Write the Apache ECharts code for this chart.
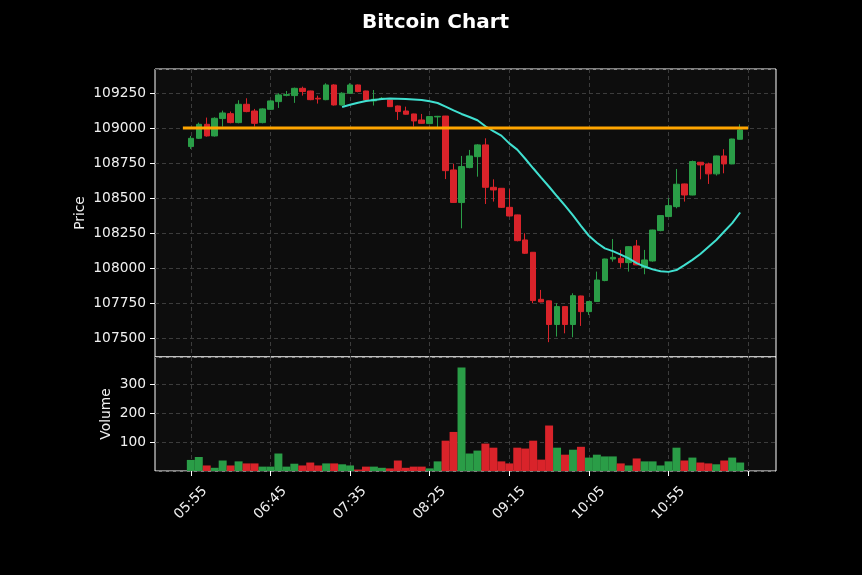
<!DOCTYPE html>
<html>
<head>
<meta charset="utf-8">
<script src="https://cdn.jsdelivr.net/npm/echarts@6/dist/echarts.min.js"></script>
<style>
html,body{margin:0;padding:0;background:#000;}
#c{width:862px;height:575px;}
</style>
</head>
<body>
<div id="c"></div>
<script>
// ---- data (5-minute candles) ----
const times = ['05:55','06:00','06:05','06:10','06:15','06:20','06:25','06:30','06:35','06:40',
  '06:45','06:50','06:55','07:00','07:05','07:10','07:15','07:20','07:25','07:30',
  '07:35','07:40','07:45','07:50','07:55','08:00','08:05','08:10','08:15','08:20',
  '08:25','08:30','08:35','08:40','08:45','08:50','08:55','09:00','09:05','09:10',
  '09:15','09:20','09:25','09:30','09:35','09:40','09:45','09:50','09:55','10:00',
  '10:05','10:10','10:15','10:20','10:25','10:30','10:35','10:40','10:45','10:50',
  '10:55','11:00','11:05','11:10','11:15','11:20','11:25','11:30','11:35','11:40'];
const opens = [108867,108926,109026,108943,109067,109102,109038,109169,109121,109038,
  109133,109188,109233,109231,109283,109264,109212,109202,109307,109164,
  109248,109307,109264,109193,109208,109200,109157,109121,109100,109057,
  109031,109079,109085,108700,108467,108717,108795,108879,108576,108569,
  108433,108379,108200,108112,107776,107765,107596,107724,107596,107800,
  107688,107760,107910,108064,108069,108038,108157,108002,108050,108267,
  108367,108438,108600,108521,108755,108743,108672,108800,108743,108919];
const closes = [108926,109026,108943,109069,109107,109038,109169,109117,109033,109136,
  109193,109236,109238,109283,109260,109202,109207,109307,109164,109248,
  109307,109260,109200,109205,109212,109152,109117,109098,109050,109033,
  109081,109083,108695,108468,108724,108800,108879,108576,108557,108433,
  108371,108195,108105,107767,107757,107596,107724,107596,107802,107688,
  107760,107914,108064,108076,108038,108152,108022,108057,108271,108374,
  108445,108598,108521,108760,108736,108672,108800,108743,108921,108986];
const highs = [108943,109038,109074,109076,109124,109117,109198,109212,109136,109140,
  109198,109248,109264,109288,109295,109266,109231,109319,109312,109255,
  109319,109310,109266,109271,109220,109202,109160,109152,109102,109100,
  109086,109086,109086,108745,108800,108843,108884,108926,108633,108571,
  108562,108381,108248,108114,107843,107767,107748,107726,107819,107802,
  107762,107974,108066,108207,108129,108155,108200,108129,108273,108376,
  108498,108707,108602,108767,108757,108752,108802,108848,108923,109026];
const lows = [108850,108921,108938,108938,109010,109033,109033,109112,109010,109033,
  109129,109143,109226,109179,109231,109198,109174,109198,109160,109160,
  109243,109255,109193,109160,109200,109150,109057,109095,109010,109030,
  109026,109002,108635,108465,108283,108712,108652,108457,108474,108428,
  108368,108190,108100,107748,107755,107470,107510,107533,107505,107586,
  107664,107758,107905,108045,108002,107974,108020,107955,108045,108262,
  108365,108426,108474,108519,108633,108600,108660,108676,108741,108917];
const volumes = [41,51,22,14,39,22,36,29,29,18,
  18,63,18,28,22,32,22,29,29,26,
  22,8,18,18,14,12,39,14,18,18,
  12,36,107,137,358,63,73,97,83,36,
  29,83,80,107,42,159,83,59,76,86,
  49,59,53,53,29,22,46,36,36,22,
  36,83,39,49,32,29,26,39,49,32];
const ma20 = [null,null,null,null,null,null,null,null,null,null,
  null,null,null,null,null,null,null,null,null,109150,
  109166,109180,109192,109200,109206,109210,109209,109206,109203,109199,
  109190,109178,109152,109125,109100,109078,109055,109012,108978,108945,
  108890,108845,108780,108712,108645,108580,108512,108445,108375,108300,
  108230,108180,108140,108120,108095,108068,108035,108010,107990,107976,
  107972,107985,108020,108058,108100,108150,108200,108260,108320,108396];
const levelPrice = 109000;
const priceTicks = [107500,107750,108000,108250,108500,108750,109000,109250];
const volumeTicks = [100,200,300];

// ---- layout helpers ----
const PAD = 4;
const pad = Array(PAD).fill('');
const cats = pad.concat(times, pad);
const padNull = Array(PAD).fill('-');
const candleData = padNull.concat(times.map((t, i) => [opens[i], closes[i], lows[i], highs[i]]), padNull);
const UP = '#2a9d47', DOWN = '#d9232a';
const volData = padNull.concat(volumes.map((v, i) => ({
  value: v, itemStyle: { color: closes[i] >= opens[i] ? UP : DOWN }
})), padNull);
const maData = padNull.concat(ma20, padNull);
// horizontal level line spans one slot beyond first and last candle
const levelData = cats.map((c, k) => (k >= PAD - 1 && k <= PAD + times.length) ? levelPrice : null);

const isTick = (idx) => idx >= PAD && (idx - PAD) % 10 === 0;
const FONT = 'DejaVu Sans';
const TXT = '#f0f0f0';
const gridLine = { show: true, lineStyle: { color: '#3c3c3c', type: [4, 3], width: 1 } };

const chart = echarts.init(document.getElementById('c'), null, { renderer: 'canvas' });
chart.setOption({
  backgroundColor: '#000000',
  animation: false,
  title: {
    text: 'Bitcoin Chart', left: 357, top: 8,
    textStyle: { color: '#ffffff', fontSize: 20, fontWeight: 'bold', fontFamily: FONT }
  },
  grid: [
    { left: 155, right: 86, top: 69, height: 288, show: true, backgroundColor: '#0d0d0d', borderColor: '#ffffff', borderWidth: 1 },
    { left: 155, right: 86, top: 357, height: 114, show: true, backgroundColor: '#0d0d0d', borderColor: '#ffffff', borderWidth: 1 }
  ],
  xAxis: [
    {
      type: 'category', gridIndex: 0, data: cats, boundaryGap: true,
      axisLine: { show: false }, axisTick: { show: false }, axisLabel: { show: false },
      splitLine: Object.assign({ interval: isTick, alignWithLabel: true }, gridLine)
    },
    {
      type: 'category', gridIndex: 1, data: cats, boundaryGap: true,
      axisLine: { show: false },
      axisTick: { show: true, alignWithLabel: true, interval: isTick, length: 5, lineStyle: { color: '#ffffff' } },
      axisLabel: {
        interval: isTick, rotate: 45, align: 'center', verticalAlign: 'middle', margin: 32,
        color: TXT, fontSize: 13.8, fontFamily: FONT
      },
      splitLine: Object.assign({ interval: isTick, alignWithLabel: true }, gridLine)
    }
  ],
  yAxis: [
    {
      type: 'value', gridIndex: 0, min: 107364, max: 109421, minInterval: 250, maxInterval: 250,
      name: 'Price', nameLocation: 'middle', nameGap: 68, nameMoveOverlap: false,
      nameTextStyle: { color: TXT, fontSize: 13.8, fontFamily: FONT },
      axisLine: { show: false },
      axisTick: { show: true, length: 5, lineStyle: { color: '#ffffff' } },
      axisLabel: {
        color: TXT, fontSize: 13.8, fontFamily: FONT, margin: 9,
        showMinLabel: false, showMaxLabel: false,
        formatter: (v) => priceTicks.indexOf(v) >= 0 ? String(v) : ''
      },
      splitLine: gridLine
    },
    {
      type: 'value', gridIndex: 1, min: 3, max: 394, minInterval: 100, maxInterval: 100,
      name: 'Volume', nameLocation: 'middle', nameGap: 42, nameMoveOverlap: false,
      nameTextStyle: { color: TXT, fontSize: 13.8, fontFamily: FONT },
      axisLine: { show: false },
      axisTick: { show: true, length: 5, lineStyle: { color: '#ffffff' } },
      axisLabel: {
        color: TXT, fontSize: 13.8, fontFamily: FONT, margin: 9,
        showMinLabel: false, showMaxLabel: false,
        formatter: (v) => volumeTicks.indexOf(v) >= 0 ? String(v) : ''
      },
      splitLine: gridLine
    }
  ],
  series: [
    {
      type: 'candlestick', xAxisIndex: 0, yAxisIndex: 0, data: candleData, barWidth: 6,
      itemStyle: { color: UP, color0: DOWN, borderColor: UP, borderColor0: DOWN, borderWidth: 1 }
    },
    {
      type: 'line', xAxisIndex: 0, yAxisIndex: 0, data: maData, showSymbol: false, connectNulls: false,
      lineStyle: { color: '#40e0d0', width: 2 }, z: 3
    },
    {
      type: 'line', xAxisIndex: 0, yAxisIndex: 0, data: levelData, showSymbol: false,
      lineStyle: { color: '#ffa500', width: 3 }, z: 4
    },
    {
      type: 'bar', xAxisIndex: 1, yAxisIndex: 1, data: volData, barWidth: '100%', barGap: '0%'
    }
  ]
});
</script>
</body>
</html>
